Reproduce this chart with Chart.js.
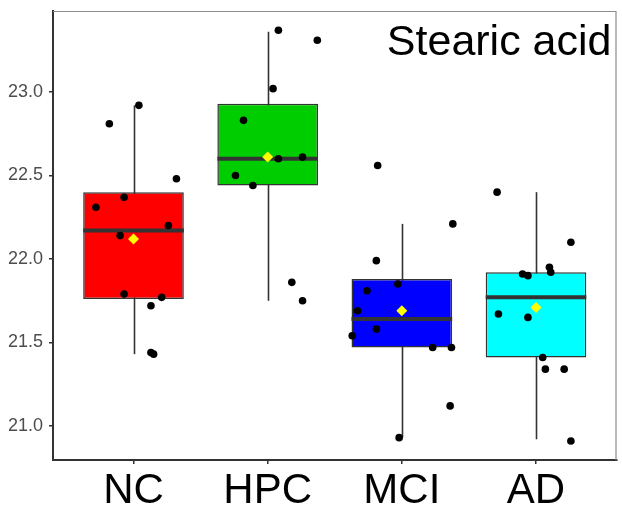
<!DOCTYPE html>
<html>
<head>
<meta charset="utf-8">
<script src="https://cdn.jsdelivr.net/npm/chart.js@4.4.1/dist/chart.umd.min.js"></script>
<style>
  html, body { margin: 0; padding: 0; background: #ffffff; }
  #wrap { width: 622px; height: 512px; position: relative; }
</style>
</head>
<body>
<div id="wrap"><canvas id="c" width="622" height="512"></canvas></div>
<script>
// ---- data ----
const categories = ['NC', 'HPC', 'MCI', 'AD'];
const categoryX = [1, 2, 3, 4];
const q1 = [21.76, 22.44, 21.47, 21.41];
const q3 = [22.40, 22.93, 21.88, 21.92];
const medians = [22.17, 22.60, 21.64, 21.77];
const whiskerLow = [21.43, 21.75, 20.93, 20.92];
const whiskerHigh = [22.92, 23.36, 22.21, 22.40];
const means = [22.12, 22.61, 21.69, 21.71];
const boxColors = ['#FF0000', '#00CD00', '#0000FF', '#00FFFF'];

// jittered observations (x in category units, y values)
const ncX  = [0.82, 1.04, 1.32, 0.72, 0.93, 1.26, 0.90, 0.93, 1.21, 1.13, 1.13, 1.15];
const ncY  = [22.81, 22.92, 22.48, 22.31, 22.37, 22.20, 22.14, 21.79, 21.77, 21.72, 21.44, 21.43];
const hpcX = [2.08, 2.37, 2.04, 1.82, 2.08, 2.26, 1.76, 1.89, 2.18, 2.26];
const hpcY = [23.37, 23.31, 23.02, 22.83, 22.60, 22.61, 22.50, 22.44, 21.86, 21.75];
const mciX = [2.82, 3.38, 2.81, 2.97, 2.74, 2.67, 2.81, 2.63, 3.23, 3.37, 3.36, 2.98];
const mciY = [22.56, 22.21, 21.99, 21.85, 21.81, 21.69, 21.58, 21.54, 21.47, 21.47, 21.12, 20.93];
const adX  = [3.71, 4.26, 3.90, 3.94, 4.10, 4.11, 3.72, 3.94, 4.05, 4.07, 4.21, 4.26];
const adY  = [22.40, 22.10, 21.91, 21.90, 21.95, 21.92, 21.67, 21.65, 21.41, 21.34, 21.34, 20.91];
const yTicks = [21.0, 21.5, 22.0, 22.5, 23.0];
const yMin = 20.796, yMax = 23.485;
const xMin = 0.4, xMax = 4.6;
const titleText = 'Stearic acid';

// ---- build datasets ----
const boxData = categoryX.map((x, i) => ({ x: x, y: [q1[i], q3[i]] }));
const pts = [];
[[ncX, ncY], [hpcX, hpcY], [mciX, mciY], [adX, adY]].forEach(([xs, ys]) => {
  xs.forEach((x, i) => pts.push({ x: x, y: ys[i] }));
});
const meanData = categoryX.map((x, i) => ({ x: x, y: means[i] }));

const boxPlugin = {
  id: 'boxParts',
  beforeDatasetsDraw(chart) {
    const ctx = chart.ctx;
    const ys = chart.scales.y;
    const meta = chart.getDatasetMeta(0);
    ctx.save();
    ctx.strokeStyle = '#333333';
    ctx.lineWidth = 1.6;
    meta.data.forEach((bar, i) => {
      ctx.beginPath();
      ctx.moveTo(Math.round(bar.x) + 0.5, ys.getPixelForValue(whiskerLow[i]));
      ctx.lineTo(Math.round(bar.x) + 0.5, ys.getPixelForValue(whiskerHigh[i]));
      ctx.stroke();
    });
    ctx.restore();
  },
  afterDatasetDraw(chart, args) {
    if (args.index !== 0) return;
    const ctx = chart.ctx;
    const ys = chart.scales.y;
    ctx.save();
    ctx.strokeStyle = '#333333';
    ctx.lineWidth = 4;
    args.meta.data.forEach((bar, i) => {
      const y = ys.getPixelForValue(medians[i]);
      ctx.beginPath();
      ctx.moveTo(bar.x - bar.width / 2, y);
      ctx.lineTo(bar.x + bar.width / 2, y);
      ctx.stroke();
    });
    ctx.restore();
  },
  afterDraw(chart) {
    const ctx = chart.ctx;
    const a = chart.chartArea;
    ctx.save();
    ctx.strokeStyle = '#8c8c8c';
    ctx.lineWidth = 1.2;
    ctx.beginPath();
    ctx.moveTo(a.left, a.top + 0.5);
    ctx.lineTo(a.right - 0.5, a.top + 0.5);
    ctx.lineTo(a.right - 0.5, a.bottom);
    ctx.stroke();
    ctx.fillStyle = '#000000';
    ctx.font = '43px "Liberation Sans", Arial, sans-serif';
    ctx.textAlign = 'right';
    ctx.textBaseline = 'alphabetic';
    ctx.fillText(titleText, a.right - 5, a.top + 44);
    ctx.restore();
  }
};

new Chart(document.getElementById('c'), {
  type: 'bar',
  data: {
    datasets: [
      {
        type: 'bar',
        data: boxData,
        backgroundColor: boxColors,
        borderColor: '#333333',
        borderWidth: 1.5,
        borderSkipped: false,
        barPercentage: 0.75,
        categoryPercentage: 1.0,
        order: 3
      },
      {
        type: 'scatter',
        data: pts,
        pointRadius: 3.8,
        pointBackgroundColor: '#000000',
        pointBorderColor: '#000000',
        pointBorderWidth: 0,
        order: 2
      },
      {
        type: 'scatter',
        data: meanData,
        pointStyle: 'rectRot',
        pointRadius: 5.5,
        pointBackgroundColor: '#FFFF00',
        pointBorderColor: '#FFFF00',
        pointBorderWidth: 0,
        order: 1
      }
    ]
  },
  options: {
    responsive: false,
    animation: false,
    devicePixelRatio: 1,
    layout: { padding: { left: 0, top: 11, right: 1, bottom: 0 } },
    plugins: { legend: { display: false }, tooltip: { enabled: false }, title: { display: false } },
    scales: {
      x: {
        type: 'linear',
        min: xMin,
        max: xMax,
        offset: false,
        afterBuildTicks(scale) { scale.ticks = categoryX.map(v => ({ value: v })); },
        afterFit(scale) { scale.height = 52; scale.paddingLeft = 0; scale.paddingRight = 0; },
        ticks: {
          callback: (v) => categories[categoryX.indexOf(v)] || '',
          color: '#000000',
          font: { family: '"Liberation Sans", Arial, sans-serif', size: 42 },
          padding: 2,
          maxRotation: 0,
          autoSkip: false
        },
        grid: { offset: false, drawOnChartArea: false, drawTicks: true, tickLength: 4, color: '#333333', lineWidth: 1.5 },
        border: { display: true, color: '#333333', width: 2 }
      },
      y: {
        type: 'linear',
        min: yMin,
        max: yMax,
        afterBuildTicks(scale) { scale.ticks = yTicks.map(v => ({ value: v })); },
        afterFit(scale) { scale.width = 53; scale.paddingTop = 0; scale.paddingBottom = 0; },
        ticks: {
          callback: (v) => Number(v).toFixed(1),
          color: '#4d4d4d',
          font: { family: '"Liberation Sans", Arial, sans-serif', size: 18 },
          padding: 6
        },
        grid: { drawOnChartArea: false, drawTicks: true, tickLength: 4, color: '#333333', lineWidth: 1.5 },
        border: { display: true, color: '#333333', width: 2 }
      }
    }
  },
  plugins: [boxPlugin]
});
</script>
</body>
</html>
